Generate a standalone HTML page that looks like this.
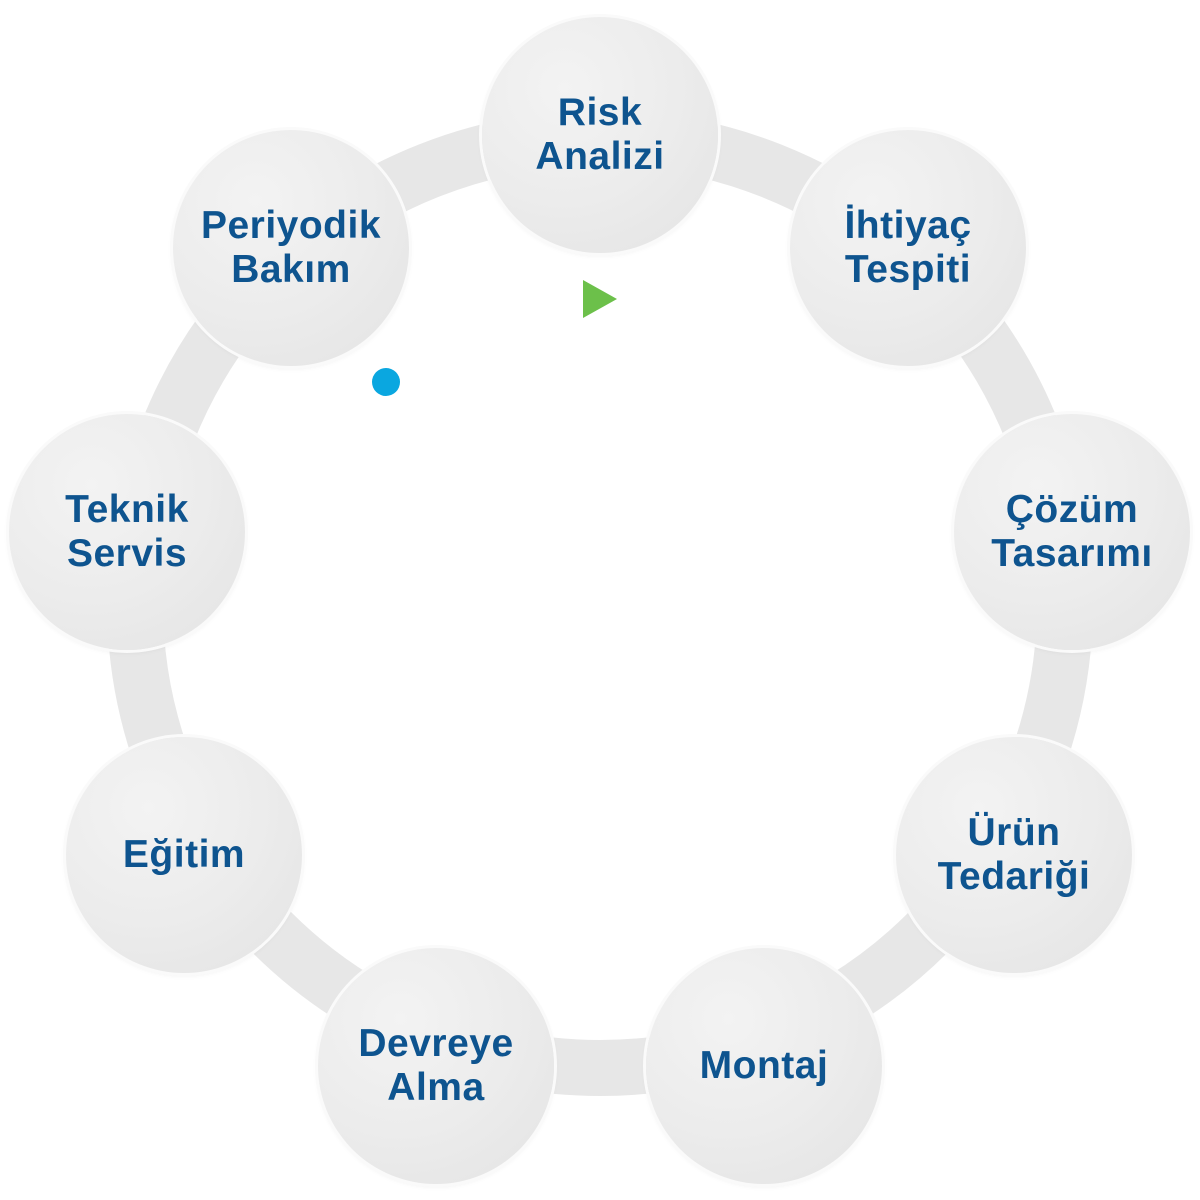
<!DOCTYPE html>
<html><head><meta charset="utf-8"><style>
html,body{margin:0;padding:0;background:#fff;}
body{width:1200px;height:1200px;position:relative;overflow:hidden;font-family:"Liberation Sans",sans-serif;}
.c{position:absolute;width:236px;height:236px;border-radius:50%;background:radial-gradient(circle at 35% 30%,#f3f3f3 0%,#ececec 50%,#e3e3e3 100%);box-shadow:0 0 0 3px #fafafa,0 2px 6px rgba(0,0,0,0.08);display:flex;align-items:center;justify-content:center;text-align:center;color:#0e548f;font-weight:bold;font-size:39px;letter-spacing:0.5px;line-height:44px;}
</style></head><body>
<svg width="1200" height="1200" style="position:absolute;left:0;top:0">
<circle cx="600" cy="603" r="465" fill="none" stroke="#e7e7e7" stroke-width="56"/>
<polygon points="583,280 583,318 617,299" fill="#6cc04a"/>
<circle cx="386" cy="382" r="14" fill="#0aa7e0"/>
</svg>
<div class="c" style="left:482px;top:17px">Risk<br>Analizi</div>
<div class="c" style="left:790px;top:130px">İhtiyaç<br>Tespiti</div>
<div class="c" style="left:954px;top:414px">Çözüm<br>Tasarımı</div>
<div class="c" style="left:896px;top:737px">Ürün<br>Tedariği</div>
<div class="c" style="left:646px;top:948px">Montaj</div>
<div class="c" style="left:318px;top:948px">Devreye<br>Alma</div>
<div class="c" style="left:66px;top:737px">Eğitim</div>
<div class="c" style="left:9px;top:414px">Teknik<br>Servis</div>
<div class="c" style="left:173px;top:130px">Periyodik<br>Bakım</div>
</body></html>
